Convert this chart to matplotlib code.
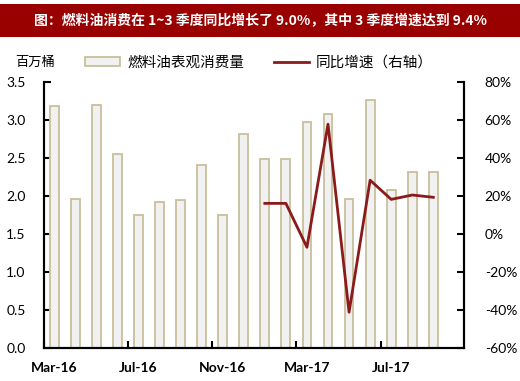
import matplotlib.pyplot as plt
from matplotlib.patches import Rectangle

plt.rcParams['font.family'] = ['Noto Sans CJK SC', 'DejaVu Sans']

months = ['Mar-16', 'Apr-16', 'May-16', 'Jun-16', 'Jul-16', 'Aug-16', 'Sep-16',
          'Oct-16', 'Nov-16', 'Dec-16', 'Jan-17', 'Feb-17', 'Mar-17', 'Apr-17',
          'May-17', 'Jun-17', 'Jul-17', 'Aug-17', 'Sep-17']
consumo = [3.19, 1.97, 3.20, 2.56, 1.76, 1.93, 1.95, 2.41, 1.76, 2.82,
           2.49, 2.49, 2.98, 3.09, 1.96, 3.27, 2.08, 2.32, 2.32]
# crecimiento interanual, empieza en Jan-17
meses_linea = months[10:]
crecimiento = [16.3, 16.3, -6.8, 58.0, -41.0, 28.5, 18.4, 20.7, 19.5]
etiquetas_x = ['Mar-16', 'Jul-16', 'Nov-16', 'Mar-17', 'Jul-17']
titulo = '图：燃料油消费在 1~3 季度同比增长了 9.0%，其中 3 季度增速达到 9.4%'

rojo = '#8B1A1A'

fig = plt.figure(figsize=(5.2, 3.81), dpi=100)

# banda del titulo
fig.patches.append(Rectangle((0, 1 - 37 / 381), 1, 33 / 381, transform=fig.transFigure,
                             facecolor='#990000', edgecolor='none', zorder=0))
fig.text(0.5, 1 - 21 / 381, titulo, color='white', fontsize=10, fontweight='bold',
         ha='center', va='center')

ax = fig.add_axes([0.084, 0.0858, 0.808, 0.698])
x = list(range(len(months)))
barras = ax.bar(x, consumo, width=0.42, color='#F1F1F1', edgecolor='#C9BF9C',
                linewidth=1.3, label='燃料油表观消费量', zorder=2)
ax.set_xlim(-0.5, 19.45)
ax.set_ylim(0, 3.5)
ax.set_yticks([0, 0.5, 1.0, 1.5, 2.0, 2.5, 3.0, 3.5])
ax.set_yticklabels(['%.1f' % v for v in ax.get_yticks()], family='Lato', fontsize=10)
ax.tick_params(axis='y', direction='in', length=5, width=1.5, pad=13)

ax.set_xticks([-0.5, 3.5, 7.5, 11.5, 15.5])
ax.set_xticklabels([])
ax.tick_params(axis='x', direction='in', length=5, width=1.5)
pos_etq = [months.index(m) for m in etiquetas_x]
ax.set_xticks(pos_etq, minor=True)
ax.set_xticklabels(etiquetas_x, minor=True, family='Lato', fontsize=10, fontweight='bold')
ax.tick_params(axis='x', which='minor', length=0, pad=10)

ax.spines['top'].set_visible(False)
for s in ['left', 'right', 'bottom']:
    ax.spines[s].set_linewidth(1.5)

ax2 = ax.twinx()
xl = [months.index(m) for m in meses_linea]
linea, = ax2.plot(xl, crecimiento, color=rojo, linewidth=2, label='同比增速（右轴）', zorder=3)
ax2.set_ylim(-60, 80)
ax2.set_yticks(range(-60, 81, 20))
ax2.set_yticklabels(['%d%%' % v for v in range(-60, 81, 20)], family='Lato', fontsize=10)
ax2.tick_params(axis='y', direction='in', length=5, width=1.5, pad=15)
ax2.spines['top'].set_visible(False)
for s in ['left', 'right', 'bottom']:
    ax2.spines[s].set_linewidth(1.5)

fig.text(15 / 520, 1 - 62 / 381, '百万桶', fontsize=9.5, va='center', ha='left')
fig.legend(handles=[barras, linea], loc='center left',
           bbox_to_anchor=(72 / 520, 1 - 63 / 381), ncol=2, frameon=False,
           fontsize=10.5, handlelength=2.4, handleheight=0.6, columnspacing=2.0,
           handletextpad=0.5)

fig.savefig('out.png', dpi=100)
